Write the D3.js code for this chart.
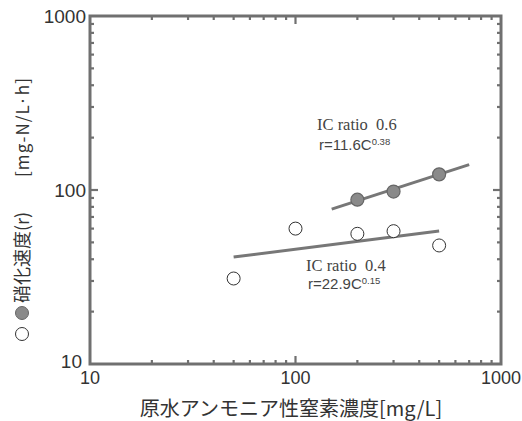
<!DOCTYPE html>
<html><head><meta charset="utf-8">
<script src="https://cdn.jsdelivr.net/npm/d3@7"></script>
<style>body{margin:0;background:#fff}svg{display:block}</style>
</head><body>
<svg id="c" width="522" height="421"></svg>
<script>
// Data
const xTickLabels = [10, 100, 1000];
const yTickLabels = [10, 100, 1000];
const openX = [50, 100, 200, 300, 500];     // IC ratio 0.4
const openY = [31, 60, 56, 58, 48];
const filledX = [200, 300, 500];            // IC ratio 0.6
const filledY = [88, 98, 123];
const fit06X = [150, 700];
const fit06Y = [77.7, 140];
const fit04X = [50, 500];
const fit04Y = [41.2, 58.2];
const labels06 = ["IC ratio  0.6", "r=11.6C", "0.38"];
const labels04 = ["IC ratio  0.4", "r=22.9C", "0.15"];
const xTitle = "原水アンモニア性窒素濃度[mg/L]";
const yTitleA = "硝化速度(r)";
const yTitleB = "[mg-N/L·h]";

const svg = d3.select("#c");
const L = 90, R = 501, T = 16, B = 364;
const x = d3.scaleLog().domain([10, 1000]).range([L, R]);
const y = d3.scaleLog().domain([10, 1000]).range([B, T]);
const frameCol = "#707070";

// minor / major ticks, inward on all sides
const ticks = [];
for (let d = 10; d < 1000; d *= 10) for (let k = 1; k < 10; k++) ticks.push(d * k);
const g = svg.append("g");
ticks.forEach(v => {
  if (v === 10) return;
  const major = (v === 100);
  const len = major ? 8 : 4;
  const xv = x(v), yv = y(v);
  g.append("line").attr("x1", xv).attr("x2", xv).attr("y1", B).attr("y2", B - len);
  g.append("line").attr("x1", xv).attr("x2", xv).attr("y1", T).attr("y2", T + len);
  g.append("line").attr("y1", yv).attr("y2", yv).attr("x1", L).attr("x2", L + len);
  g.append("line").attr("y1", yv).attr("y2", yv).attr("x1", R).attr("x2", R - len);
});
g.selectAll("line").attr("stroke", frameCol).attr("stroke-width", 2.2);

svg.append("rect").attr("x", L).attr("y", T).attr("width", R - L).attr("height", B - T)
  .attr("fill", "none").attr("stroke", frameCol).attr("stroke-width", 3);

// tick labels
svg.selectAll(".xl").data(xTickLabels).enter().append("text")
  .attr("x", d => x(d)).attr("y", 384).attr("text-anchor", "middle")
  .attr("font-family", "Liberation Sans, Arial, sans-serif").attr("font-size", 18)
  .attr("fill", "#333").text(d => d);
svg.selectAll(".yl").data(yTickLabels).enter().append("text")
  .attr("x", d => d === 10 ? 82 : 86).attr("y", d => y(d) + (d === 10 ? 4 : 7)).attr("text-anchor", "end")
  .attr("font-family", "Liberation Sans, Arial, sans-serif").attr("font-size", 19)
  .attr("fill", "#333").text(d => d);

// fit lines
const line = d3.line().x(d => x(d[0])).y(d => y(d[1]));
svg.append("path").attr("d", line(fit06X.map((v, i) => [v, fit06Y[i]])))
  .attr("stroke", "#777").attr("stroke-width", 3).attr("fill", "none");
svg.append("path").attr("d", line(fit04X.map((v, i) => [v, fit04Y[i]])))
  .attr("stroke", "#777").attr("stroke-width", 3).attr("fill", "none");

// points
svg.selectAll(".o").data(openX.map((v, i) => [v, openY[i]])).enter().append("circle")
  .attr("cx", d => x(d[0])).attr("cy", d => y(d[1])).attr("r", 6.5)
  .attr("fill", "#fff").attr("stroke", "#333").attr("stroke-width", 1);
svg.selectAll(".f").data(filledX.map((v, i) => [v, filledY[i]])).enter().append("circle")
  .attr("cx", d => x(d[0])).attr("cy", d => y(d[1])).attr("r", 6.5)
  .attr("fill", "#8a8a8a").attr("stroke", "#666").attr("stroke-width", 1.2);

// annotations
function annot(lbl, x0, y0, x1, y1) {
  svg.append("text").attr("x", x0).attr("y", y0)
    .attr("font-family", "Liberation Serif, serif").attr("font-size", 16.5)
    .attr("fill", "#444").attr("xml:space", "preserve").style("white-space", "pre").text(lbl[0]);
  const t = svg.append("text").attr("x", x1).attr("y", y1)
    .attr("font-family", "Liberation Sans, Arial, sans-serif").attr("font-size", 15)
    .attr("fill", "#444");
  t.append("tspan").text(lbl[1]);
  t.append("tspan").attr("font-size", 9.5).attr("dy", -5).text(lbl[2]);
}
annot(labels06, 317, 130, 319, 150);
annot(labels04, 306, 271, 308, 289);

// x title
svg.append("text").attr("x", 291).attr("y", 416).attr("text-anchor", "middle")
  .attr("font-family", "Noto Sans CJK JP, sans-serif").attr("font-size", 20)
  .attr("fill", "#333").text(xTitle);

// y title with symbols
svg.append("circle").attr("cx", 22).attr("cy", 334).attr("r", 6.5)
  .attr("fill", "#fff").attr("stroke", "#333").attr("stroke-width", 1);
svg.append("circle").attr("cx", 22).attr("cy", 313).attr("r", 6.5)
  .attr("fill", "#8a8a8a").attr("stroke", "#666").attr("stroke-width", 1);
svg.append("text").attr("transform", "translate(29,303) rotate(-90)")
  .attr("font-family", "Noto Sans CJK JP, sans-serif").attr("font-size", 18)
  .attr("fill", "#333").text(yTitleA);
svg.append("text").attr("transform", "translate(29,177) rotate(-90)")
  .attr("font-family", "Noto Sans CJK JP, sans-serif").attr("font-size", 17)
  .attr("textLength", 99).attr("lengthAdjust", "spacing")
  .attr("fill", "#333").text(yTitleB);
</script>
</body></html>
